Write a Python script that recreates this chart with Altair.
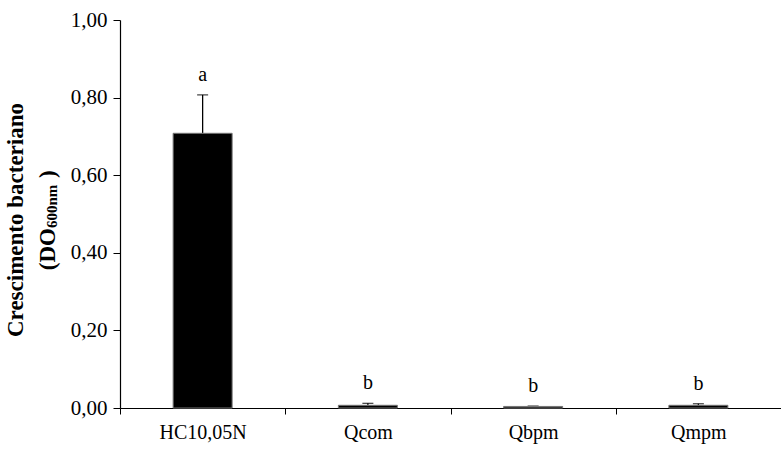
import altair as alt
import pandas as pd

categories = ["HC10,05N", "Qcom", "Qbpm", "Qmpm"]
means = [0.708, 0.007, 0.004, 0.007]
sds = [0.099, 0.005, 0.001, 0.004]
letters = ["a", "b", "b", "b"]

df = pd.DataFrame({
    "cat": categories,
    "mean": means,
    "upper": [m + s for m, s in zip(means, sds)],
    "letter": letters,
})

FONT = "Liberation Serif"

x = alt.X("cat:N", sort=categories, title=None,
          scale=alt.Scale(paddingInner=0, paddingOuter=0),
          axis=alt.Axis(labelAngle=0, labelFont=FONT, labelFontSize=20,
                        labelColor="black", domainColor="black", tickColor="black",
                        tickBand="extent", tickSize=6, labelPadding=18,
                        labelAlign="center",
                        domainWidth=1.2, tickWidth=1))
y = alt.Y("mean:Q", title=None,
          scale=alt.Scale(domain=[0, 1], nice=False),
          axis=alt.Axis(values=[0, 0.2, 0.4, 0.6, 0.8, 1.0],
                        labelExpr="replace(format(datum.value, '.2f'), '.', ',')",
                        labelFont=FONT, labelFontSize=21, labelColor="black",
                        domainColor="black", tickColor="black", tickSize=7,
                        labelPadding=6, grid=False, domainWidth=1.2, tickWidth=1))

base = alt.Chart(df)

err = base.mark_rule(color="black", strokeWidth=1.3).encode(
    x=alt.X("cat:N", sort=categories), y="mean:Q", y2="upper:Q")
cap = base.mark_tick(color="black", orient="horizontal", size=11, thickness=1.3).encode(
    x=alt.X("cat:N", sort=categories), y="upper:Q")
bars = base.mark_bar(size=59, color="black", stroke="#777777", strokeWidth=1).encode(x=x, y=y)
labels = base.mark_text(font=FONT, fontSize=20, dy=-14, baseline="alphabetic",
                        color="black").encode(
    x=alt.X("cat:N", sort=categories), y="upper:Q", text="letter:N")

title_font = dict(font=FONT, fontWeight="bold", color="black", angle=270, baseline="alphabetic")
t1 = alt.Chart(pd.DataFrame({"t": ["Crescimento bacteriano"]})).mark_text(
    fontSize=23, align="center", **title_font).encode(
    x=alt.value(-97), y=alt.value(200), text="t:N")
t2a = alt.Chart(pd.DataFrame({"t": ["(DO"]})).mark_text(
    fontSize=23, align="right", **title_font).encode(
    x=alt.value(-65), y=alt.value(208), text="t:N")
t2b = alt.Chart(pd.DataFrame({"t": ["600nm"]})).mark_text(
    fontSize=15, align="left", **title_font).encode(
    x=alt.value(-63), y=alt.value(208), text="t:N")
t2c = alt.Chart(pd.DataFrame({"t": [")"]})).mark_text(
    fontSize=23, align="left", **title_font).encode(
    x=alt.value(-65), y=alt.value(158), text="t:N")

chart = alt.layer(err, cap, bars, labels, t1, t2a, t2b, t2c).properties(
    width=661, height=388,
    autosize=alt.AutoSizeParams(type="none"),
    padding={"left": 120, "top": 20, "right": 0, "bottom": 48},
    background="white",
).configure_view(stroke=None)

chart.save("out.html", embed_options={"renderer": "svg", "actions": False})
